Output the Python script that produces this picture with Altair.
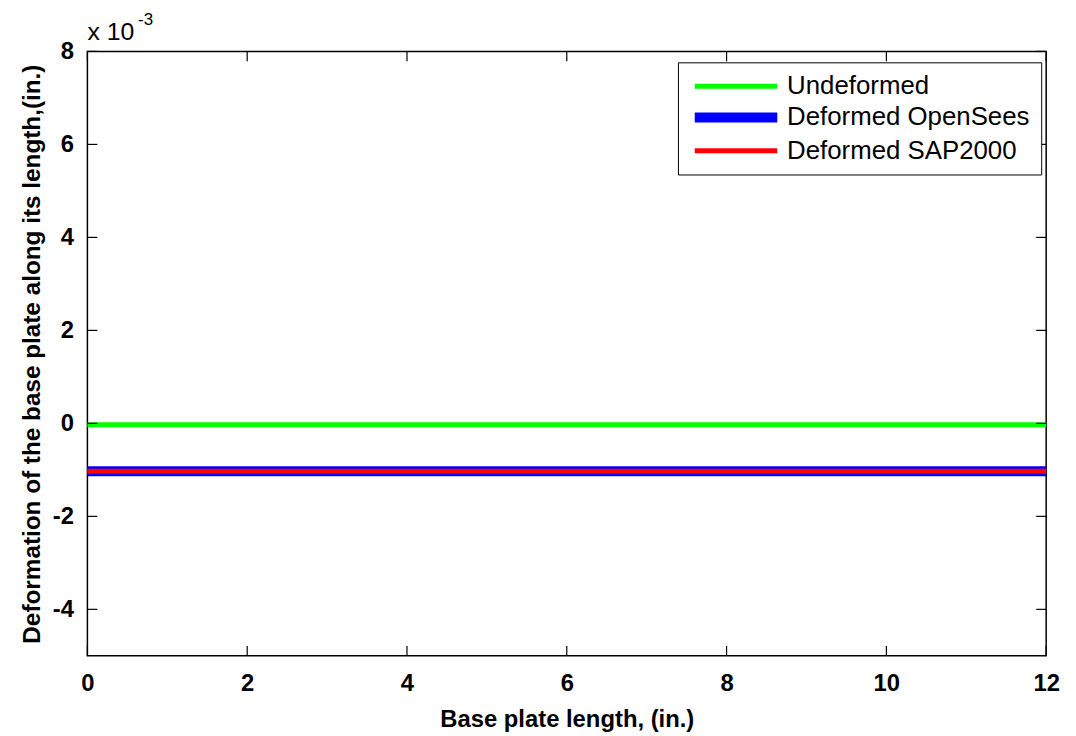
import altair as alt
import pandas as pd

# ---- data ----
series_names = ["Undeformed", "Deformed OpenSees", "Deformed SAP2000"]
series_colors = ["#00FF00", "#0000FF", "#FF0000"]
series_widths = [5, 10, 5]
x_points = [0, 12]
undeformed = [-0.00003, -0.00003]
deformed_opensees = [-0.00103, -0.00103]
deformed_sap2000 = [-0.00103, -0.00103]

x_ticks = [0, 2, 4, 6, 8, 10, 12]
y_ticks = [-0.004, -0.002, 0.0, 0.002, 0.004, 0.006, 0.008]
x_domain = [0, 12]
y_domain = [-0.005, 0.008]

FONT = "Liberation Sans"
W, H = 966, 609

rows = []
for name, vals in zip(series_names,
                      [undeformed, deformed_opensees, deformed_sap2000]):
    for xv, yv in zip(x_points, vals):
        rows.append({"x": xv, "y": yv, "series": name})
df = pd.DataFrame(rows)

xs = alt.Scale(domain=x_domain, nice=False, zero=False)
ys = alt.Scale(domain=y_domain, nice=False, zero=False)

x_axis = alt.Axis(values=x_ticks, tickSize=0, domain=False, grid=False,
                  labelFlush=False,
                  labelFontSize=24, labelFontWeight="bold", labelFont=FONT,
                  labelColor="black", labelPadding=16,
                  title="Base plate length, (in.)", titleFont=FONT,
                  titleFontSize=24, titleFontWeight="bold", titleColor="black",
                  titlePadding=12)
y_axis = alt.Axis(values=y_ticks, tickSize=0, domain=False, grid=False,
                  labelFlush=False,
                  labelExpr="'' + round(datum.value*1000)",
                  labelFontSize=24, labelFontWeight="bold", labelFont=FONT,
                  labelColor="black", labelPadding=14,
                  title="Deformation of the base plate along its length,(in.)",
                  titleFont=FONT, titleFontSize=24.5, titleFontWeight="bold",
                  titleColor="black", titlePadding=8)

legend_style = dict(title=None, orient="none", legendX=595, legendY=11,
                    strokeColor="black", fillColor="white", padding=11,
                    symbolType="M-4,0H4", symbolSize=432, symbolOffset=32,
                    labelFontSize=26, labelFont=FONT, labelColor="black",
                    rowPadding=-2, labelOffset=36, labelLimit=400)

lines = alt.Chart(df).mark_line(strokeCap="butt").encode(
    x=alt.X("x:Q", scale=xs, axis=x_axis),
    y=alt.Y("y:Q", scale=ys, axis=y_axis),
    color=alt.Color("series:N",
                    scale=alt.Scale(domain=series_names, range=series_colors),
                    legend=alt.Legend(**legend_style)),
    strokeWidth=alt.StrokeWidth("series:N",
                                scale=alt.Scale(type="ordinal", domain=series_names,
                                                range=series_widths),
                                legend=alt.Legend(**legend_style)),
)

xt = pd.DataFrame({"x": x_ticks})
yt = pd.DataFrame({"y": y_ticks})
tick_style = dict(color="black", strokeWidth=1.2)

xb = alt.Chart(xt).mark_rule(**tick_style).encode(
    x=alt.X("x:Q", scale=xs, axis=x_axis), y=alt.value(H), y2=alt.value(H - 10))
xtp = alt.Chart(xt).mark_rule(**tick_style).encode(
    x=alt.X("x:Q", scale=xs, axis=x_axis), y=alt.value(0), y2=alt.value(10))
yl = alt.Chart(yt).mark_rule(**tick_style).encode(
    y=alt.Y("y:Q", scale=ys, axis=y_axis), x=alt.value(0), x2=alt.value(10))
yr = alt.Chart(yt).mark_rule(**tick_style).encode(
    y=alt.Y("y:Q", scale=ys, axis=y_axis), x=alt.value(W), x2=alt.value(W - 10))

exp_base = alt.Chart(pd.DataFrame({"t": ["x 10"]})).mark_text(
    font=FONT, fontSize=25, align="left", baseline="alphabetic", color="black"
).encode(x=alt.value(0), y=alt.value(-12), text="t:N")
exp_sup = alt.Chart(pd.DataFrame({"t": ["-3"]})).mark_text(
    font=FONT, fontSize=17, align="left", baseline="alphabetic", color="black"
).encode(x=alt.value(51), y=alt.value(-27), text="t:N")

chart = alt.layer(lines, xb, xtp, yl, yr, exp_base, exp_sup).properties(
    width=W, height=H,
    autosize=alt.AutoSizeParams(type="none"),
    padding={"left": 80, "top": 41, "right": 22, "bottom": 76},
    background="white",
).configure_view(stroke="black", strokeWidth=1.5)

chart.save("out.html", embed_options={"renderer": "svg", "actions": False})
